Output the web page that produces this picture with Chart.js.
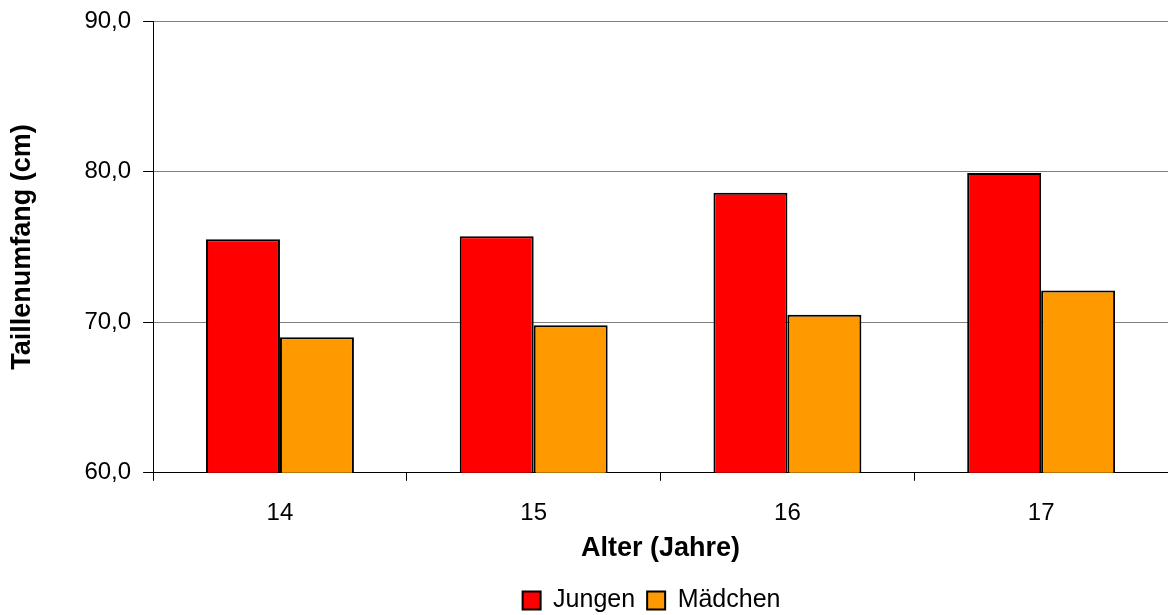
<!DOCTYPE html>
<html lang="de">
<head>
    <meta charset="UTF-8">
    <title>Taillenumfang</title>
    <script src="https://cdn.jsdelivr.net/npm/chart.js"></script>
    <style>
        body {
            margin: 0;
            background: #fff;
        }
    </style>
</head>
<body>
    <canvas id="grafik" width="1168" height="615"></canvas>

<script>
        // Daten
        const alter = ['14', '15', '16', '17'];
        const jungen = [75.5, 75.7, 78.6, 79.9];
        const maedchen = [69.0, 69.8, 70.5, 72.1];

        Chart.defaults.font.family = '"Liberation Sans", Arial, sans-serif';
        Chart.defaults.color = '#000';

        // Legende etwas nach links schieben (wie im Original)
        const legendeVerschieben = {
            id: 'legendeVerschieben',
            afterLayout(chart) {
                chart.legend.left -= 9;
                chart.legend.right -= 9;
            }
        };

        const ctx = document.getElementById('grafik').getContext('2d');
        const grafik = new Chart(ctx, {
            type: 'bar',
            data: {
                labels: alter,
                datasets: [{
                    label: 'Jungen',
                    data: jungen,
                    backgroundColor: '#ff0000',
                    borderColor: '#000',
                    borderWidth: 2,
                    borderSkipped: false
                }, {
                    label: 'Mädchen',
                    data: maedchen,
                    backgroundColor: '#ff9900',
                    borderColor: '#000',
                    borderWidth: 2,
                    borderSkipped: false
                }]
            },
            plugins: [legendeVerschieben],
            options: {
                responsive: false,
                animation: false,
                layout: {
                    padding: { top: 10, right: 0, left: 4, bottom: -8 }
                },
                datasets: {
                    bar: { barPercentage: 1.0, categoryPercentage: 0.583 }
                },
                plugins: {
                    tooltip: { enabled: false },
                    legend: {
                        position: 'bottom',
                        fullSize: false,
                        labels: {
                            boxWidth: 18,
                            boxHeight: 18,
                            padding: 12,
                            font: { size: 25 },
                            color: '#000'
                        }
                    }
                },
                scales: {
                    x: {
                        offset: true,
                        grid: {
                            offset: true,
                            drawOnChartArea: false,
                            tickLength: 8,
                            tickColor: '#000'
                        },
                        border: { color: '#000', width: 1 },
                        ticks: { font: { size: 24 }, padding: 18 },
                        title: {
                            display: true,
                            text: 'Alter (Jahre)',
                            font: { size: 27, weight: 'bold' },
                            padding: { top: -13, bottom: 11 }
                        }
                    },
                    y: {
                        min: 60,
                        max: 90,
                        grid: {
                            color: '#808080',
                            tickLength: 10,
                            tickColor: '#000'
                        },
                        border: { color: '#000', width: 1 },
                        ticks: {
                            stepSize: 10,
                            font: { size: 24, lineHeight: 0.75 },
                            padding: 12,
                            callback: (v) => v.toFixed(1).replace('.', ',')
                        },
                        title: {
                            display: true,
                            text: 'Taillenumfang (cm)',
                            font: { size: 27, weight: 'bold' },
                            padding: { top: 2, bottom: 34 }
                        }
                    }
                }
            }
        });
    </script>
</body>
</html>
